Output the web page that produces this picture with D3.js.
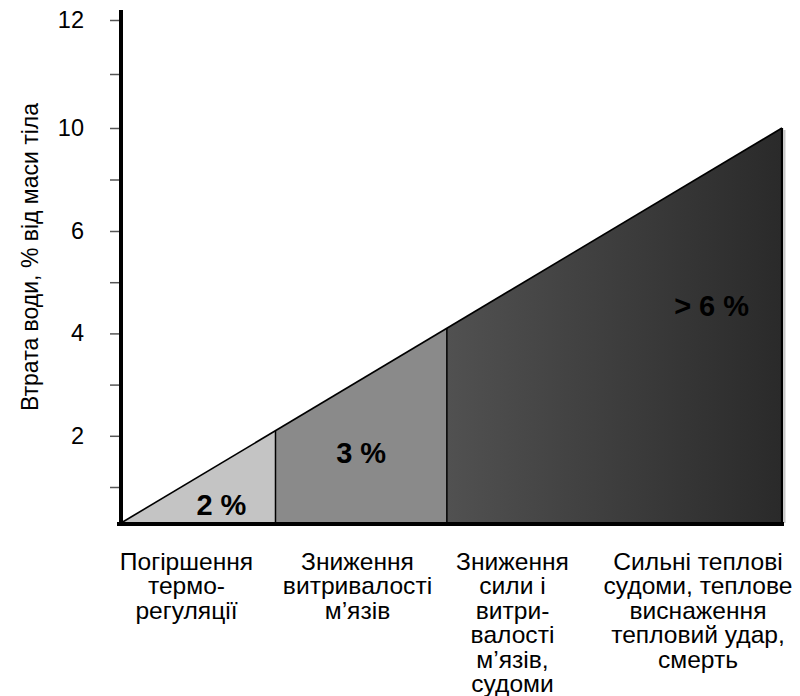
<!DOCTYPE html>
<html>
<head>
<meta charset="utf-8">
<script src="https://cdn.jsdelivr.net/npm/d3@7"></script>
<style>
  html, body { margin: 0; padding: 0; background: #fff; }
  svg { display: block; font-family: "Liberation Sans", Arial, sans-serif; }
</style>
</head>
<body>
<svg id="chart" width="800" height="696"></svg>
<script>
// Water loss (% of body mass) at the stage boundaries and the top of the wedge
const stageBounds = [0, 2.1, 4.1, 10];
const stageLabels = ["2 %", "3 %", "> 6 %"];
const stageFills = ["#c4c4c4", "#8a8a8a", "url(#darkGrad)"];

// Y axis ticks and their printed labels
const yTickValues = [1, 2, 3, 4, 5, 6, 8, 10, 11, 12];
const yTickLabels = ["", "2", "", "4", "", "6", "", "10", "", "12"];
const yTitle = "Втрата води, % від маси тіла";

// Consequences listed under the wedge, one array of lines each
const categories = ["c1", "c2", "c3", "c4"];
const categoryLines = [
  ["Погіршення", "термо-", "регуляції"],
  ["Зниження", "витривалості", "м’язів"],
  ["Зниження", "сили і", "витри-", "валості", "м’язів,", "судоми"],
  ["Сильні теплові", "судоми, теплове", "виснаження", "тепловий удар,", "смерть"]
];

const svg = d3.select("#chart");
const plotLeft = 121, plotRight = 782, plotTop = 20, plotBottom = 523;

// Vertical scale: evenly spaced ticks, labelled 2, 4, 6, 10, 12
const y = d3.scaleLinear()
  .domain([0, 1, 6, 10, 12])
  .range([plotBottom, 487, 231, 128, plotTop]);

// Horizontal position along the straight top edge for a given water loss
const xAlong = d3.scaleLinear()
  .domain([y(0), y(stageBounds[stageBounds.length - 1])])
  .range([plotLeft, plotRight]);
const xOf = v => xAlong(y(v));

const defs = svg.append("defs");
const grad = defs.append("linearGradient").attr("id", "darkGrad")
  .attr("x1", "0%").attr("x2", "100%").attr("y1", "0%").attr("y2", "0%");
grad.append("stop").attr("offset", "0%").attr("stop-color", "#515151");
grad.append("stop").attr("offset", "100%").attr("stop-color", "#2a2a2a");

// Soft shadow along the right edge of the wedge
svg.append("line")
  .attr("x1", plotRight + 2.5).attr("x2", plotRight + 2.5)
  .attr("y1", y(10) + 2).attr("y2", plotBottom)
  .attr("stroke", "#c8c8c8").attr("stroke-width", 2);

// Wedge segments
const segs = d3.range(stageLabels.length).map(i => ({
  v0: stageBounds[i], v1: stageBounds[i + 1], label: stageLabels[i], fill: stageFills[i]
}));

svg.append("g").selectAll("path").data(segs).join("path")
  .attr("d", d => {
    const xa = xOf(d.v0), xb = xOf(d.v1);
    return `M${xa},${plotBottom}L${xa},${y(d.v0)}L${xb},${y(d.v1)}L${xb},${plotBottom}Z`;
  })
  .attr("fill", d => d.fill)
  .attr("stroke", "none");

// Dividers between stages
svg.append("g").selectAll("line").data(stageBounds.slice(1)).join("line")
  .attr("x1", d => xOf(d)).attr("x2", d => xOf(d))
  .attr("y1", d => y(d)).attr("y2", plotBottom)
  .attr("stroke", "#000")
  .attr("stroke-width", (d, i) => i === stageBounds.length - 2 ? 2.2 : 1.5);

// Top edge of the wedge
svg.append("line")
  .attr("x1", xOf(0)).attr("y1", y(0))
  .attr("x2", xOf(10)).attr("y2", y(10))
  .attr("stroke", "#000").attr("stroke-width", 1.6);

// Stage labels
const labelPos = [
  { cx: d => (xOf(d.v0) * 0.35 + xOf(d.v1) * 0.65), by: 515 },
  { cx: d => (xOf(d.v0) + xOf(d.v1)) / 2, by: 463 },
  { cx: d => xOf(d.v0) + (xOf(d.v1) - xOf(d.v0)) * 0.79, by: 316 }
];
svg.append("g").selectAll("text").data(segs).join("text")
  .attr("x", (d, i) => labelPos[i].cx(d))
  .attr("y", (d, i) => labelPos[i].by)
  .attr("text-anchor", "middle")
  .attr("font-size", 29).attr("font-weight", "bold")
  .attr("fill", "#000")
  .text(d => d.label);

// Y axis
const yAxis = d3.axisLeft(y)
  .tickValues(yTickValues)
  .tickSize(10)
  .tickPadding(26)
  .tickFormat((d, i) => yTickLabels[i]);
const gy = svg.append("g").attr("transform", `translate(${plotLeft - 1},0)`).call(yAxis);
gy.select(".domain").remove();
gy.selectAll(".tick line").attr("stroke", "#555").attr("stroke-width", 1.5);
gy.selectAll(".tick text")
  .attr("font-size", 23.5).attr("fill", "#000")
  .attr("font-family", "'Liberation Sans', Arial, sans-serif");

// Axis lines
svg.append("line")
  .attr("x1", plotLeft).attr("x2", plotLeft)
  .attr("y1", 10).attr("y2", plotBottom + 2)
  .attr("stroke", "#000").attr("stroke-width", 4);
svg.append("line")
  .attr("x1", plotLeft - 4).attr("x2", plotRight + 2)
  .attr("y1", plotBottom + 1).attr("y2", plotBottom + 1)
  .attr("stroke", "#000").attr("stroke-width", 4);

// Y axis title
svg.append("text")
  .attr("transform", "translate(38,257) rotate(-90)")
  .attr("text-anchor", "middle")
  .attr("font-size", 23)
  .attr("fill", "#000")
  .text(yTitle);

// Category captions
const xCat = d3.scaleOrdinal().domain(categories).range([186.5, 357.5, 512.5, 698]);
const lineH = 24.5;
const cap = svg.append("g").selectAll("text").data(categories).join("text")
  .attr("x", d => xCat(d))
  .attr("y", 569.5)
  .attr("text-anchor", "middle")
  .attr("font-size", 24.6)
  .attr("fill", "#000");
cap.selectAll("tspan").data((d, i) => categoryLines[i]).join("tspan")
  .attr("x", function () { return d3.select(this.parentNode).attr("x"); })
  .attr("dy", (d, i) => i === 0 ? 0 : lineH)
  .text(d => d);
</script>
</body>
</html>
